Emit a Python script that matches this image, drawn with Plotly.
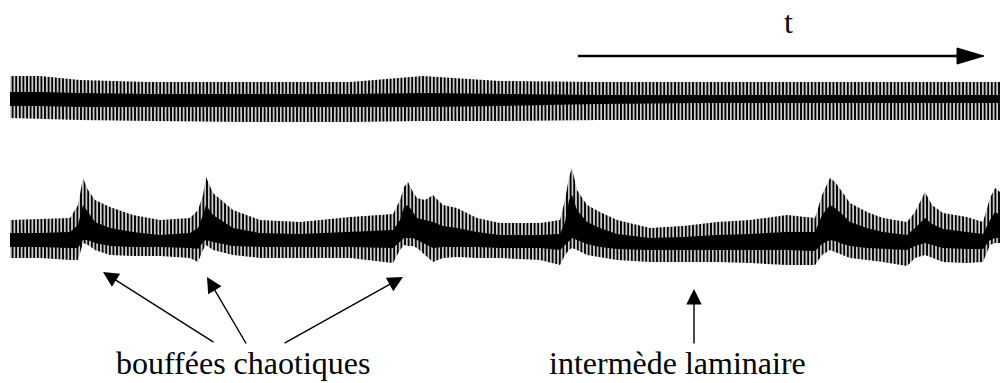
import plotly.graph_objects as go

# ---------------- data ----------------
# time axis (arbitrary units, 0..1000)
t_top = [10, 40, 80, 150, 250, 350, 423, 500, 600, 700, 800, 900, 1000]
# top signal (periodic regime): envelope and dense core, amplitude units
top_upper = [46, 46, 42, 40, 40, 40, 46, 41, 40, 40, 40, 40, 40]
top_lower = [4, 3, 2, 1, 0, 0, 1, 1, 2, 2, 2, 2, 2]
top_core_upper = [30, 30, 29, 28, 28, 28, 29, 28, 27, 27, 27, 27, 27]
top_core_lower = [16, 16, 15, 15, 15, 15, 15, 16, 18, 19, 19, 19, 19]

# bottom signal (intermittency): bursts and laminar phases
t_bot = [10, 40, 70, 78, 83, 88, 95, 110, 133, 160,
         190, 198, 203, 206, 213, 233, 260, 300, 350, 393,
         400, 404, 408, 413, 417, 425, 433, 443, 457, 477,
         500, 540, 560, 565, 569, 572, 577, 587, 600, 617,
         650, 683, 717, 750, 787, 815, 822, 830, 835, 843,
         850, 867, 883, 907, 915, 925, 932, 943, 967, 983,
         990, 995, 1000]
bot_upper = [50, 51, 52, 65, 92, 80, 70, 63, 55, 50,
             52, 60, 75, 93, 77, 60, 50, 48, 53, 56,
             70, 83, 88, 78, 72, 70, 75, 65, 62, 52,
             47, 47, 50, 70, 93, 102, 80, 65, 58, 50,
             42, 44, 48, 50, 55, 52, 75, 92, 88, 77,
             67, 58, 52, 48, 58, 78, 65, 57, 53, 48,
             72, 82, 78]
bot_lower = [12, 12, 10, 10, 27, 25, 20, 15, 14, 14,
             12, 8, 20, 25, 20, 15, 12, 12, 12, 7,
             20, 25, 24, 24, 22, 15, 8, 12, 13, 12,
             12, 10, 5, 15, 20, 22, 20, 15, 13, 10,
             8, 8, 8, 7, 5, 5, 15, 20, 18, 14,
             12, 10, 8, 4, 12, 15, 12, 8, 7, 8,
             25, 27, 27]
bot_core_upper = [37, 37, 38, 45, 65, 58, 48, 42, 38, 35,
                  37, 42, 55, 65, 55, 42, 37, 36, 38, 40,
                  50, 63, 65, 58, 52, 50, 48, 44, 42, 38,
                  35, 35, 36, 48, 70, 75, 60, 48, 42, 36,
                  32, 33, 35, 36, 38, 38, 55, 65, 62, 55,
                  48, 42, 38, 35, 42, 52, 46, 41, 38, 36,
                  50, 58, 55]
bot_core_lower = [23, 23, 22, 22, 30, 30, 27, 24, 23, 23,
                  22, 21, 28, 30, 28, 24, 23, 23, 23, 22,
                  28, 32, 32, 32, 30, 26, 22, 23, 23, 23,
                  22, 22, 20, 25, 30, 32, 30, 26, 23, 21,
                  20, 20, 20, 20, 20, 19, 26, 30, 29, 26,
                  24, 22, 21, 20, 24, 27, 25, 22, 21, 21,
                  30, 32, 32]

time_label = "t"
burst_label = "bouffées chaotiques"
laminar_label = "intermède laminaire"

# ---------------- figure ----------------
W, H = 1000, 383
FONT = "Liberation Serif, Times New Roman, serif"


def py(px):
    return 1 - px / H


stripes = dict(shape="|", fgcolor="black", bgcolor="white", size=3.6, solidity=0.6, fillmode="replace")


def band(fig, t, lo, hi, yaxis, pattern):
    fig.add_trace(go.Scatter(x=t, y=lo, mode="lines", line=dict(width=0, color="black"),
                             yaxis=yaxis, hoverinfo="skip", showlegend=False))
    kw = dict(fillpattern=pattern, fillcolor="white") if pattern else dict(fillcolor="black")
    fig.add_trace(go.Scatter(x=t, y=hi, mode="lines", line=dict(width=0, color="black"),
                             fill="tonexty", yaxis=yaxis, hoverinfo="skip", showlegend=False, **kw))


fig = go.Figure()
band(fig, t_top, top_lower, top_upper, "y", stripes)
band(fig, t_top, top_core_lower, top_core_upper, "y", None)
band(fig, t_bot, bot_lower, bot_upper, "y2", stripes)
band(fig, t_bot, bot_core_lower, bot_core_upper, "y2", None)

fig.update_layout(
    width=W, height=H, margin=dict(l=0, r=0, t=0, b=0),
    paper_bgcolor="white", plot_bgcolor="white",
    xaxis=dict(range=[0, 1000], visible=False, fixedrange=True),
    yaxis=dict(domain=[py(130), py(60)], range=[-8, 62], visible=False),
    yaxis2=dict(domain=[py(280), py(160)], range=[-10, 110], visible=False, anchor="x"),
)

# time arrow
fig.add_shape(type="line", xref="x", yref="paper", x0=578, x1=962, y0=py(56), y1=py(56),
              line=dict(color="black", width=2.5))
fig.add_shape(type="path", xref="x", yref="paper",
              path=f"M 957 {py(48)} L 984 {py(56)} L 957 {py(64)} Z",
              fillcolor="black", line=dict(color="black", width=1))
fig.add_annotation(text=time_label, x=788, xref="x", y=1, yref="paper", yanchor="top",
                   yshift=-2, showarrow=False, font=dict(family=FONT, size=32, color="black"))

# labels
fig.add_annotation(text=burst_label, x=243, xref="x", y=0, yref="paper", yanchor="bottom",
                   showarrow=False, font=dict(family=FONT, size=32, color="black"))
fig.add_annotation(text=laminar_label, x=677, xref="x", y=0, yref="paper", yanchor="bottom",
                   showarrow=False, font=dict(family=FONT, size=32, color="black"))

# pointer arrows (tip, tail) in pixels
pointers = [((103, 272), (215, 343)), ((207, 277), (247, 345)),
            ((403, 277), (283, 344)), ((694, 289), (694, 345))]
for (tx, ty), (sx, sy) in pointers:
    fig.add_annotation(text="", x=tx, xref="x", y=py(ty), yref="paper",
                       ax=sx - tx, ay=sy - ty, axref="pixel", ayref="pixel",
                       showarrow=True, arrowhead=2, arrowsize=2.2, arrowwidth=1.4,
                       arrowcolor="black", standoff=0, startstandoff=0)

fig.write_html("out.html", config={"displayModeBar": False, "staticPlot": True},
               post_script="document.body.style.margin='0';")
